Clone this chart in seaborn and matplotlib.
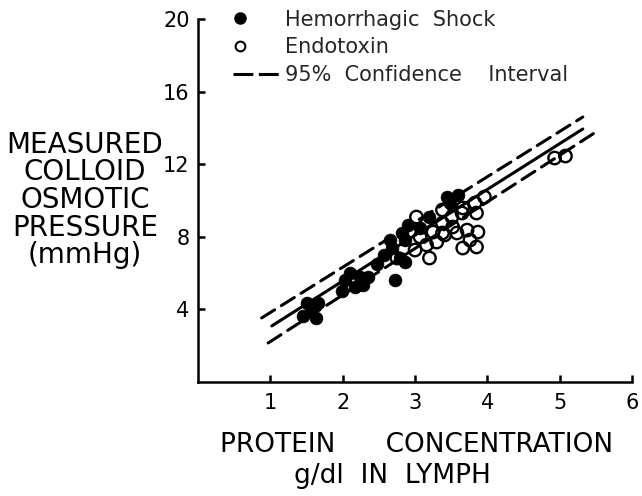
import matplotlib
matplotlib.use("Agg")
import matplotlib.pyplot as plt
import seaborn as sns
from matplotlib.lines import Line2D
from matplotlib.legend_handler import HandlerLine2D

# Hemorrhagic shock (filled circles)
hem_x = [1.51, 1.45, 1.63, 1.57, 1.66, 1.99, 2.03, 2.10, 2.17, 2.28, 2.35, 2.24,
         2.47, 2.57, 2.68, 2.73, 2.79, 2.86, 2.82, 2.90, 2.86, 3.07, 3.20, 3.44,
         3.59, 3.48, 2.65]
hem_y = [4.35, 3.64, 3.53, 4.08, 4.35, 5.01, 5.62, 6.00, 5.23, 5.34, 5.79, 5.79,
         6.50, 7.00, 7.38, 5.62, 6.83, 7.82, 8.21, 8.65, 6.61, 8.48, 9.09, 10.19,
         10.30, 9.86, 7.82]

# Endotoxin (open circles)
endo_x = [3.96, 3.83, 3.66, 3.38, 3.85, 3.65, 3.51, 3.38, 3.25, 3.38, 3.52, 3.72,
          3.87, 3.76, 3.85, 3.66, 3.16, 3.00, 3.20, 3.30, 3.07, 3.02, 2.75, 3.58,
          3.41, 4.93, 5.08]
endo_y = [10.19, 9.86, 9.59, 9.48, 9.31, 9.31, 9.09, 8.76, 8.26, 8.21, 8.54, 8.37,
          8.26, 7.82, 7.44, 7.38, 7.55, 7.27, 6.83, 7.71, 7.99, 9.09, 6.83, 8.21,
          8.10, 12.34, 12.45]

# Regression line and 95% confidence limits
fit_x = [1.02, 5.32]
fit_y = [3.09, 13.94]
upper_x = [0.88, 5.32]
upper_y = [3.53, 14.60]
lower_x = [0.97, 5.48]
lower_y = [2.15, 13.72]

x_ticks = [1, 2, 3, 4, 5, 6]
y_ticks = [4, 8, 12, 16, 20]

sns.set_theme(style="ticks")
plt.rcParams['font.family'] = ['DejaVu Sans']

fig = plt.figure(figsize=(6.42, 4.96), dpi=100)
ax = fig.add_axes([198 / 642, 1 - 382 / 496, 434 / 642, 363 / 496])

lw = 2.2
dash = (5.0, 2.6)
sns.lineplot(x=upper_x, y=upper_y, ax=ax, color="black", lw=lw)
sns.lineplot(x=lower_x, y=lower_y, ax=ax, color="black", lw=lw)
sns.lineplot(x=fit_x, y=fit_y, ax=ax, color="black", lw=lw)
ax.lines[0].set_dashes(dash)
ax.lines[1].set_dashes(dash)
for ln in ax.lines:
    ln.set_dash_capstyle("round")
    ln.set_solid_capstyle("round")

sns.scatterplot(x=endo_x, y=endo_y, ax=ax, s=80, facecolor="none",
                edgecolor="black", linewidth=1.7, zorder=3)
sns.scatterplot(x=hem_x, y=hem_y, ax=ax, s=85, color="black",
                edgecolor="black", linewidth=0.5, zorder=4)

ax.set_xlim(0, 6)
ax.set_ylim(0, 20)
ax.set_xticks(x_ticks)
ax.set_yticks(y_ticks)
ax.set_xticklabels([str(t) for t in x_ticks])
ax.set_yticklabels([str(t) for t in y_ticks])
sns.despine(ax=ax)
for s in ["left", "bottom"]:
    ax.spines[s].set_linewidth(1.8)
    ax.spines[s].set_color("black")
ax.tick_params(direction="in", length=5, width=1.8, colors="black",
               labelsize=15)
ax.tick_params(axis="y", pad=6)
ax.tick_params(axis="x", pad=8)

ax.set_xlabel("PROTEIN      CONCENTRATION", fontsize=19, color="black",
              va="top", ha="center")
ax.xaxis.set_label_coords((417 - 198) / 434, (382 - 432) / 363)
fig.text(392 / 642, 1 - 476 / 496, "g/dl  IN  LYMPH", fontsize=19,
         ha="center", va="center", color="black")
ax.set_ylabel("MEASURED\nCOLLOID\nOSMOTIC\nPRESSURE\n(mmHg)", rotation=0,
              fontsize=20, ha="center", va="center", multialignment="center",
              linespacing=0.98, color="black")
ax.yaxis.set_label_coords((85 - 198) / 434, (382 - 200) / 363)


class LeftMarkerHandler(HandlerLine2D):
    def get_xdata(self, legend, xdescent, ydescent, width, height, fontsize):
        xd = [-xdescent, -xdescent + 0.3 * width]
        return xd, xd


handles = [
    Line2D([], [], marker="o", color="black", ls="none", markersize=8),
    Line2D([], [], marker="o", markerfacecolor="none", markeredgecolor="black",
           markeredgewidth=1.5, ls="none", markersize=7),
    Line2D([], [], color="black", lw=2.2, dashes=(6.5, 1.8)),
]
labels = ["Hemorrhagic  Shock", "Endotoxin", "95%  Confidence    Interval"]
ax.legend(handles, labels, loc="upper left", bbox_to_anchor=(0.08, 1.026),
          frameon=False, fontsize=15, handlelength=2.2, handletextpad=0.3,
          labelspacing=0.38, borderaxespad=0, borderpad=0,
          handler_map={handles[0]: LeftMarkerHandler(numpoints=1),
                       handles[1]: LeftMarkerHandler(numpoints=1)})

fig.savefig("out.png", dpi=100, facecolor="white")
